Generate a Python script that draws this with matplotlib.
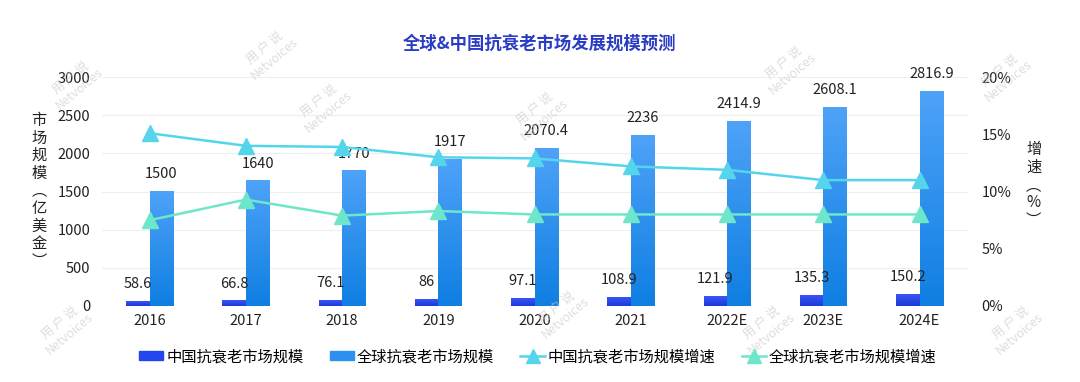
import matplotlib
matplotlib.use("Agg")
import matplotlib.pyplot as plt
import numpy as np
from matplotlib.lines import Line2D
from matplotlib.patches import Patch

plt.rcParams["font.family"] = ["Noto Sans CJK SC", "DejaVu Sans"]

# 数据
years = ["2016", "2017", "2018", "2019", "2020", "2021", "2022E", "2023E", "2024E"]
china_size = [58.6, 66.8, 76.1, 86, 97.1, 108.9, 121.9, 135.3, 150.2]
global_size = [1500, 1640, 1770, 1917, 2070.4, 2236, 2414.9, 2608.1, 2816.9]
china_growth = [15.1, 14.0, 13.9, 13.0, 12.9, 12.2, 11.9, 11.0, 11.0]
global_growth = [7.5, 9.3, 7.9, 8.3, 8.0, 8.0, 8.0, 8.0, 8.0]

names = ["中国抗衰老市场规模", "全球抗衰老市场规模", "中国抗衰老市场规模增速", "全球抗衰老市场规模增速"]

C_CN = "#2346ee"; C_GL = "#2b90f0"
L_CN = "#55d5ec"; L_GL = "#6ee6c9"
TXT = "#222222"

fig = plt.figure(figsize=(10.8, 3.82), dpi=100)
ax = fig.add_axes([0.094, 0.199, 0.802, 0.599])
ax2 = ax.twinx()

x = np.arange(len(years))
w = 0.245


def grad_bar(ax, xc, h, width, top, bottom):
    cmap = matplotlib.colors.LinearSegmentedColormap.from_list("g", [bottom, top])
    img = np.linspace(0, 1, 100).reshape(-1, 1)
    ax.imshow(img, extent=[xc - width / 2, xc + width / 2, 0, h], origin="lower",
              cmap=cmap, aspect="auto", zorder=2)


for xi, v in zip(x, china_size):
    grad_bar(ax, xi - w / 2, v, w, "#3a55f7", "#1c3ad6")
    ax.annotate(f"{v:g}", (xi - w / 2, v), xytext=(0, 12.5), textcoords="offset points",
                ha="center", va="center", fontsize=10.5, color=TXT)
for xi, v in zip(x, global_size):
    grad_bar(ax, xi + w / 2, v, w, "#4ea2f8", "#0f7fe2")
    ax.annotate(f"{v:g}", (xi + w / 2, v), xytext=(0, 12.5), textcoords="offset points",
                ha="center", va="center", fontsize=10.5, color=TXT)

ax.set_xlim(-0.5, len(years) - 0.5)
ax.set_ylim(0, 3000)
ax.set_yticks(range(0, 3001, 500))
ax.set_xticks(x, years)
ax.grid(axis="y", color="#eeeeee", lw=0.8)
ax.set_axisbelow(True)

ax2.plot(x, china_growth, color=L_CN, lw=1.8, marker="^", ms=11, mfc=L_CN, mec=L_CN, zorder=5)
ax2.plot(x, global_growth, color=L_GL, lw=1.8, marker="^", ms=11, mfc=L_GL, mec=L_GL, zorder=5)
ax2.set_ylim(0, 20)
ax2.set_yticks(range(0, 21, 5), [f"{t}%" for t in range(0, 21, 5)])

for a in (ax, ax2):
    for s in a.spines.values():
        s.set_visible(False)
    a.tick_params(length=0, labelsize=10.5, colors=TXT)
ax.tick_params(axis="x", pad=6)
ax.tick_params(axis="y", pad=8)
ax2.tick_params(axis="y", pad=10)
ax.set_zorder(1); ax2.set_zorder(2)
ax.patch.set_visible(False)

fig.text(0.5, 0.887, "全球&中国抗衰老市场发展规模预测", ha="center", va="center",
         fontsize=12.5, fontweight="bold", color="#2a3cc4")
fig.text(0.036, 0.50, "\n".join("市场规模︵亿美金︶"), ha="center", va="center",
         fontsize=11, color=TXT, linespacing=1.05)
fig.text(0.957, 0.515, "\n".join("增速︵%︶"), ha="center", va="center",
         fontsize=11, color=TXT, linespacing=1.05)

handles = [Patch(color=C_CN), Patch(color=C_GL),
           Line2D([], [], color=L_CN, lw=1.8, marker="^", ms=10),
           Line2D([], [], color=L_GL, lw=1.8, marker="^", ms=10)]
fig.legend(handles, names, loc="center", bbox_to_anchor=(0.498, 0.066), ncol=4,
           frameon=False, fontsize=11, handlelength=1.6, handleheight=0.55,
           columnspacing=1.7, handletextpad=0.2)

# 水印
for (wx, wy) in [(0.07, 0.78), (0.06, 0.14), (0.25, 0.86), (0.30, 0.72), (0.52, 0.18),
                 (0.50, 0.70), (0.71, 0.14), (0.73, 0.82), (0.93, 0.80), (0.94, 0.14)]:
    fig.text(wx, wy, "用 户 说\nNetvoices", rotation=40, ha="center", va="center",
             fontsize=9, color="#c8c8c8", alpha=0.6, linespacing=1.0)

fig.savefig("out.png")
